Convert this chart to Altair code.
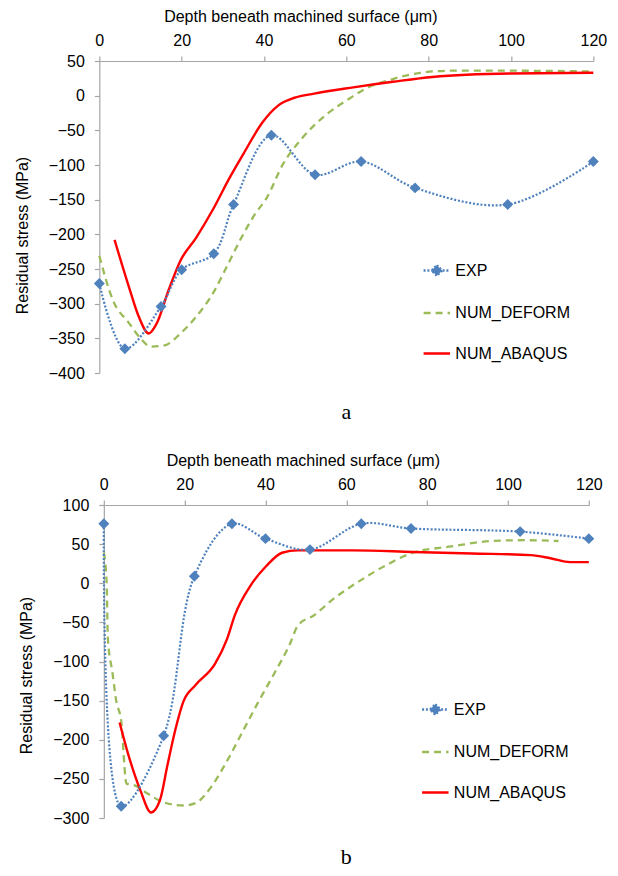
import altair as alt
import pandas as pd

SERIES = ["EXP", "NUM_DEFORM", "NUM_ABAQUS"]
COLORS = ["#4F81BD", "#9BBB59", "#FF0000"]
DASHES = [[2, 1.8], [7, 5], [1, 0]]
X_TICKS = [0, 20, 40, 60, 80, 100, 120]

# ---- panel a ----
exp_a_x = [0, 6.2, 15, 20, 27.8, 32.6, 41.8, 52.4, 63.6, 76.7, 99.2, 120]
exp_a_y = [-271, -365, -304, -251, -228, -157, -57, -114, -95, -133, -157, -95]
def_a_x = [0, 3.3, 7.2, 10, 12.5, 15.9, 19.7, 23.5, 27.8, 31.1, 34.5, 37.8, 40.7,
           44.5, 49.3, 55, 60.8, 64.6, 71.3, 78, 85.7, 100, 119]
def_a_y = [-231, -295, -328, -350, -362, -360, -343, -319, -283, -245, -205, -171, -147,
           -100, -61, -28, -4, 10, 24, 33, 36, 36, 35]
aba_a_x = [3.7, 7.2, 9.6, 12, 13.9, 16.8, 19.7, 23.5, 27.8, 31.6, 34.9, 39.7, 43.5,
           47.4, 52.2, 61.7, 71.3, 80.9, 100, 120]
aba_a_y = [-208, -276, -319, -343, -329, -281, -238, -205, -162, -119, -85, -38, -14,
           -3, 3, 12, 20, 27, 32, 33]
y_a_ticks = [50, 0, -50, -100, -150, -200, -250, -300, -350, -400]

# ---- panel b ----
exp_b_x = [0, 4.3, 14.8, 22.4, 31.7, 40, 51, 63.7, 76, 103, 120]
exp_b_y = [76, -285, -195, 9, 76, 57, 43, 76, 70, 66, 57]
def_b_x = [0, 0.7, 1, 2.1, 3.1, 4.3, 5.6, 7.5, 10.9, 14.8, 19.7, 22.7, 26.6, 30.5,
           34.4, 38.3, 42.2, 46.1, 48, 52, 56.8, 62.7, 69.5, 76.4, 86, 96, 104, 112.5]
def_b_y = [39, 1, -71, -113, -151, -176, -256, -258, -269, -280, -284, -281, -260, -227,
           -189, -151, -115, -77, -54, -41, -20, 1, 22, 39, 47, 54, 55, 54]
aba_b_x = [3.9, 6, 9, 11.7, 13.9, 15.8, 17.8, 19.7, 22.7, 27.5, 30.5, 32.4, 36.3, 40.2,
           44.1, 48, 61.7, 76.4, 91, 105.7, 110.5, 115.4, 120]
aba_b_y = [-178, -218, -264, -293, -277, -231, -185, -151, -130, -103, -71, -41, -3, 22,
           39, 42, 42, 40, 38, 36, 32, 27, 27]
y_b_ticks = [100, 50, 0, -50, -100, -150, -200, -250, -300]

FONT = "Liberation Sans"
LEGEND_SHAPES = ["M-1,0H1M0,-0.4L0.4,0L0,0.4L-0.4,0Z", "M-1,0H1", "M-1,0H1"]


def frame(xs, ys, name):
    return pd.DataFrame({"depth": xs, "stress": ys, "series": name,
                         "idx": list(range(len(xs)))})


def panel(ex, ey, dx, dy, ax, ay, ydom, yticks, w, h, caption, lx, ly, tx, ty):
    x = alt.X("depth:Q",
              scale=alt.Scale(domain=[0, 120], nice=False, zero=False),
              axis=alt.Axis(orient="top", values=X_TICKS, labelFlush=False,
                            title="Depth beneath machined surface (\u03bcm)",
                            titleX=tx, titlePadding=8, labelPadding=8))
    y = alt.Y("stress:Q",
              scale=alt.Scale(domain=ydom, nice=False, zero=False),
              axis=alt.Axis(values=yticks, title="Residual stress (MPa)", titleY=ty,
                            titlePadding=18, labelPadding=10))

    deform = alt.Chart(frame(dx, dy, "NUM_DEFORM")).mark_line(
        interpolate="monotone", strokeWidth=2.3, color=COLORS[1], strokeDash=DASHES[1]
    ).encode(x=x, y=y, order="idx:Q")
    abaqus = alt.Chart(frame(ax, ay, "NUM_ABAQUS")).mark_line(
        interpolate="monotone", strokeWidth=2.4, color=COLORS[2]
    ).encode(x=x, y=y, order="idx:Q")
    exp_df = frame(ex, ey, "EXP")
    exp_line = alt.Chart(exp_df).mark_line(
        interpolate="catmull-rom", strokeWidth=2.2, color=COLORS[0], strokeDash=DASHES[0]
    ).encode(x=x, y=y, order="idx:Q")
    exp_pts = alt.Chart(exp_df).mark_point(
        shape="diamond", filled=True, size=120, opacity=1, color=COLORS[0]
    ).encode(x=x, y=y)

    legend = alt.Legend(
        orient="none", legendX=lx, legendY=ly, title=None,
        symbolSize=700, symbolStrokeWidth=2.3, symbolOpacity=1,
        labelFont=FONT, labelFontSize=16, labelColor="black", labelOffset=4,
        rowPadding=17.5, padding=0)
    key = alt.Chart(pd.DataFrame({"series": SERIES})).transform_filter("false").mark_point(
        filled=True, size=700, opacity=1
    ).encode(
        shape=alt.Shape("series:N", scale=alt.Scale(domain=SERIES, range=LEGEND_SHAPES), legend=legend),
        fill=alt.Fill("series:N", scale=alt.Scale(domain=SERIES, range=COLORS), legend=legend),
        stroke=alt.Stroke("series:N", scale=alt.Scale(domain=SERIES, range=COLORS), legend=legend),
        strokeDash=alt.StrokeDash("series:N", scale=alt.Scale(domain=SERIES, range=DASHES), legend=legend),
    )

    return alt.layer(deform, abaqus, exp_line, exp_pts, key).properties(
        width=w, height=h,
        title=alt.TitleParams(caption, orient="bottom", font="Liberation Serif",
                              fontSize=22, fontWeight="normal", color="black", offset=21))


top = panel(exp_a_x, exp_a_y, def_a_x, def_a_y, aba_a_x, aba_a_y, [-400, 50], y_a_ticks,
            494, 312, "a", 323, 195, 201, 174)
bottom = panel(exp_b_x, exp_b_y, def_b_x, def_b_y, aba_b_x, aba_b_y, [-300, 100], y_b_ticks,
               485, 313, "b", 317, 190, 199, 170)

chart = alt.vconcat(top, bottom, spacing=29, center=True).resolve_scale(
    shape="independent", fill="independent", stroke="independent", strokeDash="independent"
).resolve_legend(
    shape="independent", fill="independent", stroke="independent", strokeDash="independent"
).properties(
    padding={"left": 6, "top": 0, "right": 0, "bottom": 0}
).configure_axis(
    grid=False, labelFont=FONT, labelFontSize=16, labelColor="black",
    titleFont=FONT, titleFontSize=16, titleFontWeight="normal", titleColor="black",
    domainColor="#A6A6A6", tickColor="#A6A6A6", tickSize=5, domainWidth=1.2, tickWidth=1.2
).configure_view(stroke=None).configure_title(anchor="middle")

chart.save("out.html", embed_options={"renderer": "svg", "actions": False})
